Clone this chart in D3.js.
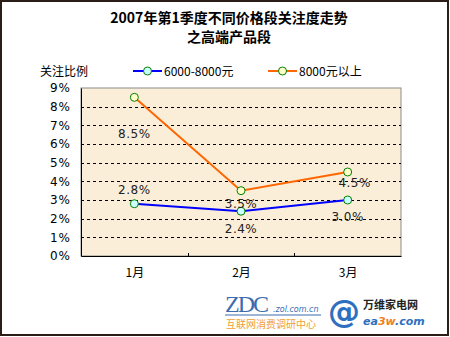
<!DOCTYPE html>
<html><head><meta charset="utf-8">
<script src="https://cdn.jsdelivr.net/npm/d3@7/dist/d3.min.js"></script>
<style>body{margin:0;background:#fff}svg{display:block}</style>
</head><body><svg id="c" width="450" height="337"></svg>
<script>
const categories = ["1月", "2月", "3月"];
const seriesNames = ["6000-8000元", "8000元以上"];
const series1 = [2.8, 2.4, 3.0];
const series2 = [8.5, 3.5, 4.5];
const yTicks = [0,1,2,3,4,5,6,7,8,9];
const titleLines = ["2007年第1季度不同价格段关注度走势", "之高端产品段"];
const yTitle = "关注比例";

const svg = d3.select("#c");
const W=450,H=337;
svg.append("rect").attr("x",1).attr("y",1).attr("width",W-3).attr("height",H-3)
  .attr("fill","#fff").attr("stroke","#2b1d17").attr("stroke-width",2);

const m={l:81,t:88,r:401,b:256};
const x=d3.scalePoint().domain(categories).range([m.l,m.r]).padding(0.5);
const xb=d3.scaleBand().domain(categories).range([m.l,m.r]);
const y=d3.scaleLinear().domain([0,9]).range([m.b,m.t]);

// plot bg
svg.append("rect").attr("x",m.l).attr("y",m.t).attr("width",m.r-m.l).attr("height",m.b-m.t)
  .attr("fill","#fbeed8").attr("stroke","#8a8a8a").attr("stroke-width",1);

// grid
svg.append("g").selectAll("line").data(yTicks.filter(d=>d>0&&d<9)).join("line")
  .attr("x1",m.l).attr("x2",m.r).attr("y1",d=>Math.round(y(d))+0.5).attr("y2",d=>Math.round(y(d))+0.5)
  .attr("stroke","#000").attr("stroke-dasharray","3,3").attr("stroke-width",1);

// axes
const ya=svg.append("g").attr("transform",`translate(${m.l},0)`)
  .call(d3.axisLeft(y).tickValues(yTicks).tickSize(0).tickPadding(10).tickFormat(d=>d+"%"));
ya.select(".domain").attr("stroke","#000");
ya.selectAll("text").attr("font-family","Tahoma, 'DejaVu Sans', sans-serif").attr("font-size",12).attr("fill","#000").attr("letter-spacing","1px");

const xa=svg.append("g").attr("transform",`translate(0,${m.b})`)
  .call(d3.axisBottom(x).tickSize(0).tickPadding(12));
xa.select(".domain").attr("stroke","#000");
xa.selectAll("text").attr("font-family","'Noto Sans CJK SC', sans-serif").attr("font-size",12).attr("fill","#000");
svg.append("g").selectAll("line").data(categories.slice(1)).join("line")
  .attr("x1",d=>Math.round(xb(d))+0.5).attr("x2",d=>Math.round(xb(d))+0.5)
  .attr("y1",m.b).attr("y2",m.b-3).attr("stroke","#000");

// lines
const line=d3.line().x((d,i)=>x(categories[i])).y(d=>y(d));
const colors=["#0000ff","#ff6600"];
const fills=["#ccffff","#ffffcc"];
[series1,series2].forEach((s,k)=>{
  svg.append("path").datum(s).attr("d",line).attr("fill","none").attr("stroke",colors[k]).attr("stroke-width",2);
});
[series1,series2].forEach((s,k)=>{
  svg.append("g").selectAll("circle").data(s).join("circle")
    .attr("cx",(d,i)=>x(categories[i])).attr("cy",d=>y(d)).attr("r",4)
    .attr("fill",fills[k]).attr("stroke","#008000").attr("stroke-width",1);
});

// data labels
const lbl=[
  {s:series1,off:[[0,-14],[0,18],[0,17]]},
  {s:series2,off:[[0,37],[0,13],[7,11]]}
];
lbl.forEach(o=>{
  svg.append("g").selectAll("text").data(o.s).join("text")
    .attr("x",(d,i)=>x(categories[i])+o.off[i][0]).attr("y",(d,i)=>y(d)+o.off[i][1]+4)
    .attr("text-anchor","middle").attr("font-family","Tahoma, 'DejaVu Sans', sans-serif")
    .attr("font-size",12).attr("fill","#222").attr("letter-spacing","0.5px")
    .text(d=>d.toFixed(1)+"%");
});

// title
svg.append("g").selectAll("text").data(titleLines).join("text")
  .attr("x",229).attr("y",(d,i)=>23+i*19).attr("text-anchor","middle")
  .attr("font-family","'Noto Sans CJK SC', sans-serif").attr("font-weight","bold").attr("font-size",14)
  .attr("fill","#000").text(d=>d);

// y title
svg.append("text").attr("x",40).attr("y",76).attr("font-family","'Noto Sans CJK SC', sans-serif")
  .attr("font-size",12).attr("fill","#000").text(yTitle);

// legend
const lg=[{x:133},{x:268}];
seriesNames.forEach((n,k)=>{
  const g=svg.append("g").attr("transform",`translate(${lg[k].x},71)`);
  g.append("line").attr("x1",0).attr("x2",29).attr("y1",0).attr("y2",0).attr("stroke",colors[k]).attr("stroke-width",2);
  g.append("circle").attr("cx",14.5).attr("cy",0).attr("r",4).attr("fill",fills[k]).attr("stroke","#008000");
  g.append("text").attr("x",31).attr("y",5).attr("font-family","'Noto Sans CJK SC', sans-serif")
    .attr("font-size",12).attr("fill","#000").text(n);
});

// logos
const lz=svg.append("g");
lz.append("text").attr("x",225).attr("y",312).attr("font-family","'Liberation Serif', serif")
  .attr("font-size",24).attr("fill","#3b6cb0").attr("letter-spacing","-2px").text("ZDC");
lz.append("text").attr("x",273).attr("y",312).attr("font-family","'DejaVu Sans', sans-serif")
  .attr("font-style","italic").attr("font-size",8).attr("fill","#3b6cb0").text(".zol.com.cn");
lz.append("line").attr("x1",225).attr("x2",321).attr("y1",315).attr("y2",315).attr("stroke","#3b6cb0");
lz.append("text").attr("x",226).attr("y",328).attr("font-family","'Noto Sans CJK SC', sans-serif")
  .attr("font-size",10).attr("fill","#f0a030").attr("textLength",90).text("互联网消费调研中心");
const le=svg.append("g");
le.append("text").attr("x",328).attr("y",322).attr("font-family","'DejaVu Sans', sans-serif")
  .attr("font-weight","bold").attr("font-size",32).attr("fill","#2f6fbf").text("@");
le.append("text").attr("x",363).attr("y",309).attr("font-family","'Noto Sans CJK SC', sans-serif")
  .attr("font-weight","bold").attr("font-size",11).attr("fill","#222").text("万维家电网");
const t=le.append("text").attr("x",363).attr("y",325).attr("font-family","'DejaVu Sans', sans-serif")
  .attr("font-style","italic").attr("font-weight","bold").attr("font-size",11).attr("fill","#2f6fbf");
t.append("tspan").text("ea");
t.append("tspan").attr("fill","#f08020").text("3w");
t.append("tspan").text(".com");
</script></body></html>
